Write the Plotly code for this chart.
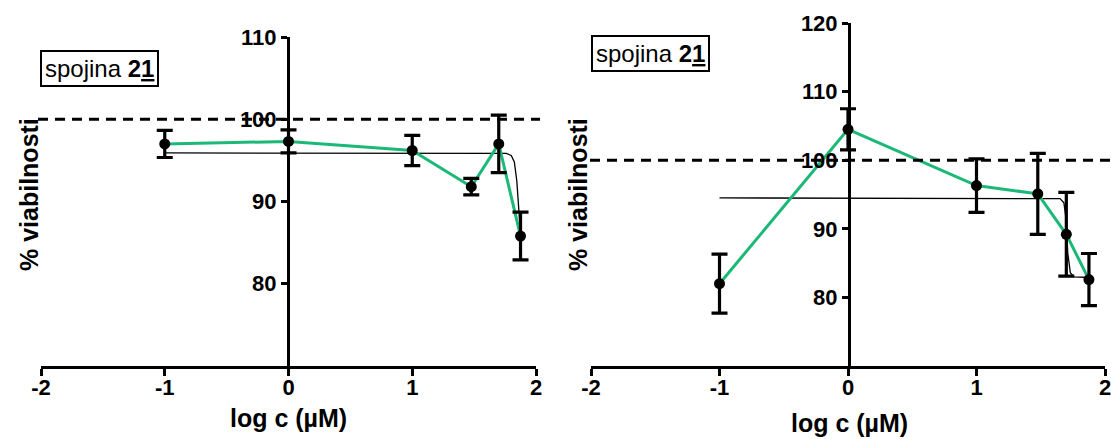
import plotly.graph_objects as go

W, H = 1111, 439

# Concentrations (log µM)
log_c = [-1, 0, 1, 1.477, 1.699, 1.875]

# Panel A: viability (%) and SD
via_a = [97.0, 97.3, 96.2, 91.8, 97.0, 85.8]
sd_a = [1.65, 1.4, 1.85, 1.0, 3.5, 2.9]
fit_a_x = [-1, 1.70, 1.76, 1.80, 1.825, 1.845, 1.86, 1.875]
fit_a_y = [95.9, 95.9, 95.85, 95.6, 94.8, 92.5, 89.5, 86.0]

# Panel B: viability (%) and SD
via_b = [82.0, 104.5, 96.3, 95.1, 89.2, 82.6]
sd_b = [4.3, 3.0, 3.9, 5.9, 6.1, 3.8]
fit_b_x = [-1, 1.60, 1.65, 1.68, 1.70, 1.71, 1.73, 1.76, 1.875]
fit_b_y = [94.5, 94.5, 94.4, 93.8, 91.0, 86.5, 83.6, 83.0, 82.9]

x_ticks = [-2, -1, 0, 1, 2]
y_ticks_a = [80, 90, 100, 110]
y_ticks_b = [80, 90, 100, 110, 120]

GREEN = "#1cb877"
FONT = "Arial, Liberation Sans, sans-serif"

fig = go.Figure()


def add_panel(fig, xa, ya, vals, sds, fx, fy):
    fig.add_trace(go.Scatter(x=fx, y=fy, mode="lines", xaxis=xa, yaxis=ya,
                             line=dict(color="black", width=1.3),
                             showlegend=False, hoverinfo="skip"))
    fig.add_trace(go.Scatter(x=log_c, y=vals, mode="lines", xaxis=xa, yaxis=ya,
                             line=dict(color=GREEN, width=3),
                             showlegend=False, hoverinfo="skip"))
    fig.add_trace(go.Scatter(x=log_c, y=vals, mode="markers", xaxis=xa, yaxis=ya,
                             marker=dict(color="black", size=11),
                             error_y=dict(type="data", array=sds, visible=True,
                                          color="black", thickness=3.2, width=8),
                             showlegend=False, cliponaxis=False))


add_panel(fig, "x", "y", via_a, sd_a, fit_a_x, fit_a_y)
add_panel(fig, "x2", "y2", via_b, sd_b, fit_b_x, fit_b_y)

tickfont = dict(family=FONT, size=22, color="black", weight="bold")
xcommon = dict(range=[-2, 2], tickvals=x_ticks, ticktext=[str(v) for v in x_ticks],
               showline=True, linecolor="black", linewidth=3, ticks="outside",
               ticklen=7, tickwidth=3, tickcolor="black", showgrid=False,
               zeroline=False, tickfont=tickfont, fixedrange=True, automargin=False,
               ticklabeloverflow="allow", ticklabelstandoff=-7)
ycommon = dict(showline=True, linecolor="black", linewidth=3, ticks="outside",
               ticklen=6, tickwidth=3, tickcolor="black", showgrid=False,
               zeroline=False, tickfont=tickfont, fixedrange=True, automargin=False)

fig.update_layout(
    width=W, height=H,
    margin=dict(l=0, r=0, t=0, b=0),
    paper_bgcolor="white", plot_bgcolor="rgba(0,0,0,0)",
    xaxis=dict(domain=[41 / W, 536 / W], anchor="y", **xcommon),
    yaxis=dict(domain=[1 - 366 / H, 1 - 37 / H], range=[70, 110],
               tickvals=y_ticks_a, anchor="free", position=288 / W, **ycommon),
    xaxis2=dict(domain=[591 / W, 1105 / W], anchor="y2", **xcommon),
    yaxis2=dict(domain=[1 - 366 / H, 1 - 23 / H], range=[70, 120],
                tickvals=y_ticks_b, anchor="free", position=849 / W, **ycommon),
    showlegend=False,
)

# 100 % reference lines
for yref, x0, x1 in (("y", 38 / W, 540 / W), ("y2", 590 / W, 1.0)):
    fig.add_shape(type="line", xref="paper", yref=yref, x0=x0, x1=x1, y0=100, y1=100,
                  line=dict(color="black", width=3, dash="10px,7px"), layer="above")

# Axis titles
title_font = dict(family=FONT, size=25, color="black", weight="bold")
for xc, yc in ((29, 195), (578, 195)):
    fig.add_annotation(x=xc / W, y=1 - yc / H, xref="paper", yref="paper",
                       text="% viabilnosti", textangle=-90, showarrow=False,
                       font=title_font, xanchor="center", yanchor="middle")
for xc, yc in ((288, 418), (849, 423)):
    fig.add_annotation(x=xc / W, y=1 - yc / H, xref="paper", yref="paper",
                       text="log c (\u00b5M)", showarrow=False,
                       font=title_font, xanchor="center", yanchor="middle")

# Compound label boxes
label_font = dict(family=FONT, size=24, color="black")
for xc, yc in ((99, 69), (650, 54)):
    fig.add_annotation(x=xc / W, y=1 - yc / H, xref="paper", yref="paper",
                       text="spojina <b>2<u>1</u></b>", showarrow=False,
                       font=label_font, bordercolor="black", borderwidth=2,
                       borderpad=3, bgcolor="white",
                       xanchor="center", yanchor="middle")

fig.write_html("out.html")
